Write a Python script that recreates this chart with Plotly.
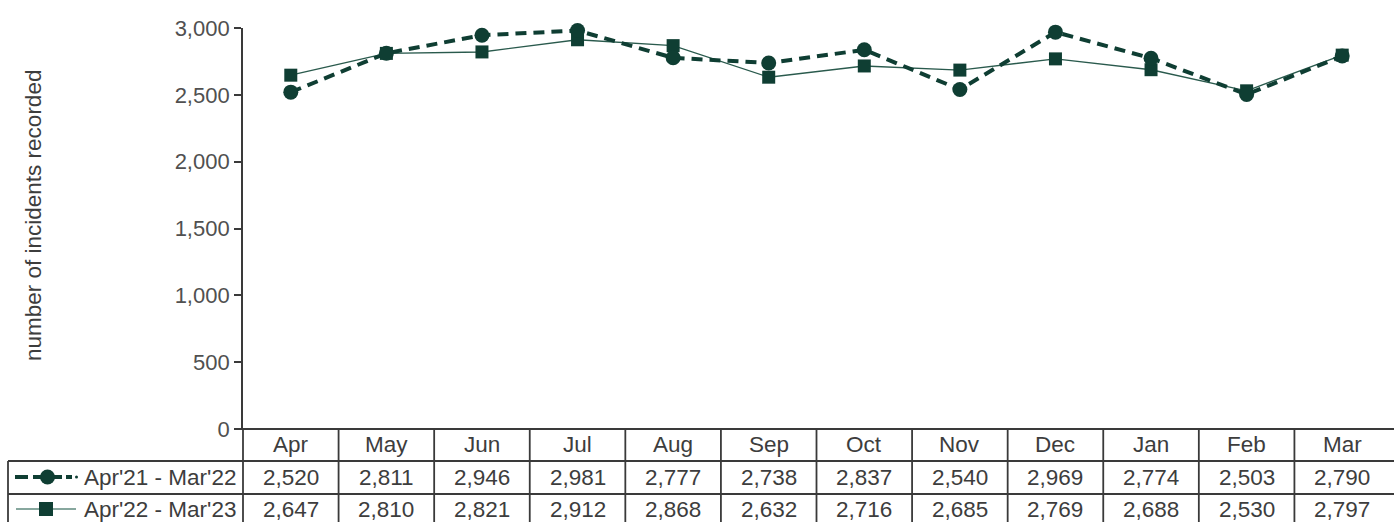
import plotly.graph_objects as go

months = ["Apr", "May", "Jun", "Jul", "Aug", "Sep", "Oct", "Nov", "Dec", "Jan", "Feb", "Mar"]
series1_name = "Apr'21 - Mar'22"
series1 = [2520, 2811, 2946, 2981, 2777, 2738, 2837, 2540, 2969, 2774, 2503, 2790]
series2_name = "Apr'22 - Mar'23"
series2 = [2647, 2810, 2821, 2912, 2868, 2632, 2716, 2685, 2769, 2688, 2530, 2797]
y_ticks = [0, 500, 1000, 1500, 2000, 2500, 3000]

GREEN = "#0f3e33"
GRID = "#3a3a3a"
TXT = "#3d3d3d"
FONT = "Liberation Sans, Arial, sans-serif"
FS = 22.5

W, H = 1394, 522
ML, MR, MT, MB = 243, 4, 28, 93
PH = H - MT - MB  # plot height in px


def py(pix):
    """pixel y -> paper y"""
    return (H - MB - pix) / PH


def px(pix):
    return (pix - ML) / (W - ML - MR)


xs = list(range(len(months)))

fig = go.Figure()
fig.add_trace(go.Scatter(
    x=xs, y=series2, mode="lines+markers", name=series2_name,
    line=dict(color="#2a5a4d", width=1.4),
    marker=dict(symbol="square", size=13, color=GREEN),
    hoverinfo="skip", showlegend=False, cliponaxis=False))
fig.add_trace(go.Scatter(
    x=xs, y=series1, mode="lines+markers", name=series1_name,
    line=dict(color=GREEN, width=4, dash="11px,7px"),
    marker=dict(symbol="circle", size=15, color=GREEN),
    hoverinfo="skip", showlegend=False, cliponaxis=False))

shapes = []
lw = 1.8
# header top line (y=0) incl. tick stub
shapes.append(dict(type="line", xref="paper", yref="paper", x0=px(236), x1=px(W + 2), y0=0, y1=0,
                   line=dict(color=GRID, width=lw)))
# row separators
for yy in (461, 494):
    shapes.append(dict(type="line", xref="paper", yref="paper", x0=px(8), x1=px(W + 2),
                       y0=py(yy), y1=py(yy), line=dict(color=GRID, width=lw)))
# column separators
for k in range(1, len(months)):
    shapes.append(dict(type="line", xref="x", yref="paper", x0=k - 0.5, x1=k - 0.5,
                       y0=0, y1=py(H + 2), line=dict(color=GRID, width=lw)))
# legend box left edge
shapes.append(dict(type="line", xref="paper", yref="paper", x0=px(8), x1=px(8),
                   y0=py(461), y1=py(H + 2), line=dict(color=GRID, width=lw)))
# axis line extension through table
shapes.append(dict(type="line", xref="paper", yref="paper", x0=0, x1=0,
                   y0=0, y1=py(H + 2), line=dict(color=GRID, width=lw)))

# legend keys
r1 = py(477)
r2 = py(509)
for a, b in ((15, 28), (33, 62), (66, 72)):
    shapes.append(dict(type="line", xref="paper", yref="paper", x0=px(a), x1=px(b), y0=r1, y1=r1,
                       line=dict(color=GREEN, width=4)))
shapes.append(dict(type="circle", xref="paper", yref="paper", x0=px(75), x1=px(78),
                   y0=py(478.5), y1=py(475.5), fillcolor=GREEN, line=dict(color=GREEN, width=0)))
shapes.append(dict(type="circle", xref="paper", yref="paper", x0=px(40), x1=px(55),
                   y0=py(484.5), y1=py(469.5), fillcolor=GREEN, line=dict(color=GREEN, width=0)))
shapes.append(dict(type="line", xref="paper", yref="paper", x0=px(16), x1=px(76), y0=r2, y1=r2,
                   line=dict(color="#5f8a7e", width=1.6)))
shapes.append(dict(type="rect", xref="paper", yref="paper", x0=px(39), x1=px(53),
                   y0=py(516), y1=py(502), fillcolor=GREEN, line=dict(color=GREEN, width=0)))

tf = dict(family=FONT, size=FS, color=TXT)
annotations = []
for i, m in enumerate(months):
    annotations.append(dict(x=i, y=py(444), xref="x", yref="paper", text=m, showarrow=False,
                            font=tf, xanchor="center", yanchor="middle"))
    annotations.append(dict(x=i, y=py(477), xref="x", yref="paper", text=f"{series1[i]:,}", showarrow=False,
                            font=tf, xanchor="center", yanchor="middle"))
    annotations.append(dict(x=i, y=py(509), xref="x", yref="paper", text=f"{series2[i]:,}", showarrow=False,
                            font=tf, xanchor="center", yanchor="middle"))
annotations.append(dict(x=px(238), y=py(477), xref="paper", yref="paper", text=series1_name, showarrow=False,
                        font=tf, xanchor="right", yanchor="middle"))
annotations.append(dict(x=px(238), y=py(509), xref="paper", yref="paper", text=series2_name, showarrow=False,
                        font=tf, xanchor="right", yanchor="middle"))
annotations.append(dict(x=px(33), y=py(216), xref="paper", yref="paper", text="number of incidents recorded",
                        showarrow=False, textangle=-90,
                        font=tf, xanchor="center", yanchor="middle"))

fig.update_layout(
    width=W, height=H,
    margin=dict(l=ML, r=MR, t=MT, b=MB, pad=0),
    paper_bgcolor="white", plot_bgcolor="white",
    showlegend=False,
    xaxis=dict(range=[-0.5, len(months) - 0.5], showticklabels=False, showgrid=False,
               zeroline=False, showline=False, ticks=""),
    yaxis=dict(range=[0, 3000], tickvals=y_ticks, tickformat=",d", showgrid=False, zeroline=False,
               showline=True, linecolor=GRID, linewidth=lw, ticks="outside", ticklen=7,
               tickcolor=GRID, tickwidth=1.5,
               tickfont=dict(family=FONT, size=22, color="#505050")),
    shapes=shapes,
    annotations=annotations,
)

fig.write_html("out.html", config={"displayModeBar": False},
               post_script="document.body.style.margin='0';document.body.style.overflow='hidden';")
